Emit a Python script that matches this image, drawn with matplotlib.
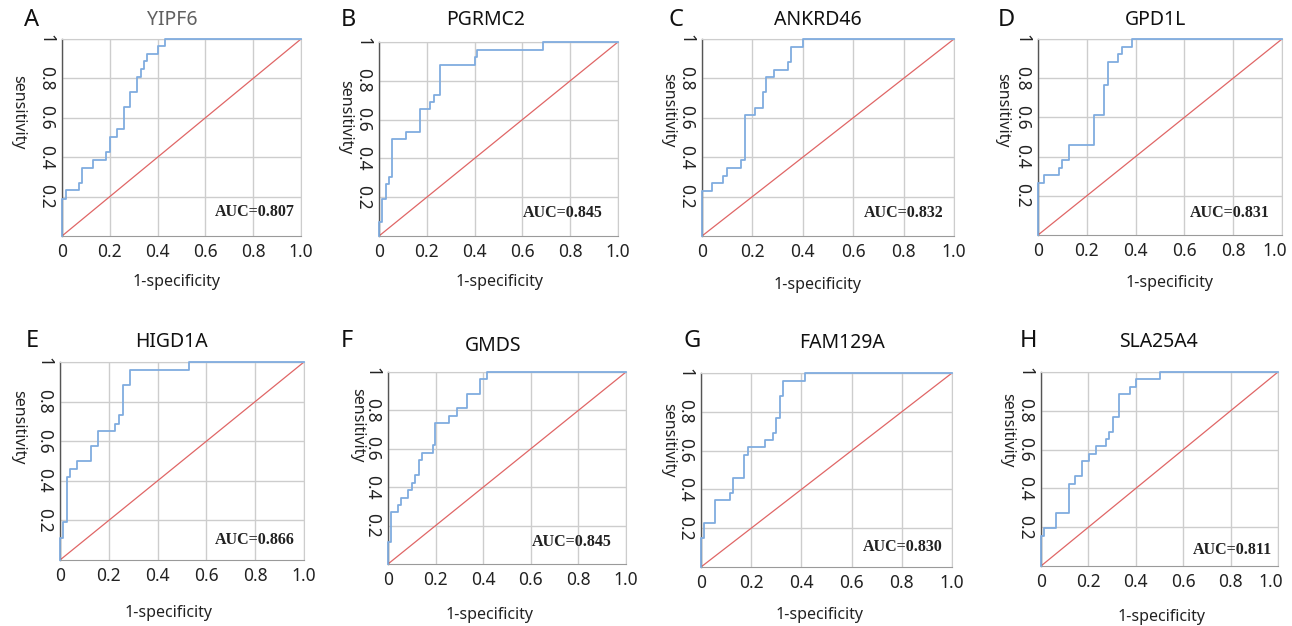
import matplotlib
matplotlib.use("Agg")
import matplotlib.pyplot as plt
from matplotlib.transforms import ScaledTranslation

# ---- data: ROC staircase corners (1-specificity, sensitivity) ----
genes = ["YIPF6", "PGRMC2", "ANKRD46", "GPD1L", "HIGD1A", "GMDS", "FAM129A", "SLA25A4"]
letters = ["A", "B", "C", "D", "E", "F", "G", "H"]
auc_values = ["0.807", "0.845", "0.832", "0.831", "0.866", "0.845", "0.830", "0.811"]

fpr_yipf6 = [0, 0, 0.017, 0.071, 0.084, 0.13, 0.186, 0.2, 0.229, 0.258, 0.285, 0.314, 0.331, 0.344, 0.356, 0.4, 0.429, 1.0]
tpr_yipf6 = [0, 0.188, 0.231, 0.27, 0.346, 0.385, 0.424, 0.503, 0.542, 0.654, 0.73, 0.808, 0.847, 0.886, 0.925, 0.963, 1.0, 1.0]

fpr_pgrmc2 = [0, 0, 0.013, 0.028, 0.04, 0.056, 0.114, 0.17, 0.215, 0.229, 0.255, 0.4, 0.41, 0.685, 1.0]
tpr_pgrmc2 = [0, 0.074, 0.19, 0.267, 0.305, 0.5, 0.536, 0.654, 0.692, 0.729, 0.884, 0.921, 0.96, 1.0, 1.0]

fpr_ankrd46 = [0, 0, 0.041, 0.083, 0.1, 0.156, 0.17, 0.212, 0.241, 0.255, 0.285, 0.342, 0.355, 0.4, 1.0]
tpr_ankrd46 = [0, 0.229, 0.268, 0.306, 0.345, 0.384, 0.613, 0.652, 0.73, 0.806, 0.845, 0.885, 0.959, 1.0, 1.0]

fpr_gpd1l = [0, 0, 0.026, 0.085, 0.097, 0.128, 0.23, 0.27, 0.286, 0.328, 0.344, 0.387, 1.0]
tpr_gpd1l = [0, 0.267, 0.306, 0.344, 0.383, 0.459, 0.612, 0.765, 0.884, 0.923, 0.961, 1.0, 1.0]

fpr_higd1a = [0, 0, 0.012, 0.03, 0.041, 0.07, 0.127, 0.156, 0.227, 0.24, 0.258, 0.286, 0.529, 1.0]
tpr_higd1a = [0, 0.113, 0.191, 0.42, 0.459, 0.498, 0.574, 0.652, 0.689, 0.73, 0.883, 0.961, 1.0, 1.0]

fpr_gmds = [0, 0, 0.013, 0.041, 0.056, 0.084, 0.101, 0.115, 0.129, 0.142, 0.187, 0.199, 0.255, 0.288, 0.33, 0.387, 0.414, 1.0]
tpr_gmds = [0, 0.116, 0.27, 0.308, 0.346, 0.386, 0.424, 0.464, 0.54, 0.578, 0.618, 0.732, 0.77, 0.81, 0.888, 0.962, 1.0, 1.0]

fpr_fam129a = [0, 0, 0.012, 0.056, 0.114, 0.126, 0.171, 0.186, 0.255, 0.287, 0.299, 0.315, 0.328, 0.414, 1.0]
tpr_fam129a = [0, 0.152, 0.229, 0.343, 0.383, 0.46, 0.576, 0.616, 0.653, 0.69, 0.767, 0.883, 0.96, 1.0, 1.0]

fpr_sla25a4 = [0, 0, 0.014, 0.062, 0.117, 0.145, 0.174, 0.202, 0.23, 0.274, 0.287, 0.302, 0.33, 0.374, 0.4, 0.501, 1.0]
tpr_sla25a4 = [0, 0.154, 0.194, 0.271, 0.424, 0.463, 0.539, 0.578, 0.616, 0.655, 0.693, 0.77, 0.885, 0.924, 0.962, 1.0, 1.0]

fprs = [fpr_yipf6, fpr_pgrmc2, fpr_ankrd46, fpr_gpd1l, fpr_higd1a, fpr_gmds, fpr_fam129a, fpr_sla25a4]
tprs = [tpr_yipf6, tpr_pgrmc2, tpr_ankrd46, tpr_gpd1l, tpr_higd1a, tpr_gmds, tpr_fam129a, tpr_sla25a4]

x_ticks = [0, 0.2, 0.4, 0.6, 0.8, 1.0]
x_tick_labels = ["0", "0.2", "0.4", "0.6", "0.8", "1.0"]
y_ticks = [0.2, 0.4, 0.6, 0.8, 1.0]
y_tick_labels = ["0.2", "0.4", "0.6", "0.8", "1"]

# ---- layout (pixels) ----
W, H = 1292, 626
# axes boxes: left, right, top, bottom
boxes = [
    (62, 301, 39, 236), (379, 618, 42, 236), (702, 954, 39, 236), (1038, 1282, 39, 235),
    (60, 304, 362, 560), (388, 626, 372, 564), (701, 952, 373, 567), (1041, 1278, 372, 566),
]
# letter (x, y), title (x, y), xlabel (x, y), ylabel (x, y)
letter_pos = [(32, 20), (348, 20), (676, 20), (1006, 20), (32, 341), (347, 341), (692, 341), (1028, 341)]
title_pos = [(172, 20), (486, 20), (818, 20), (1155, 20), (171, 342), (493, 346), (842, 343), (1158, 342)]
xlabel_pos = [(177, 282), (500, 282), (818, 285), (1170, 283), (169, 613), (490, 615), (820, 615), (1162, 617)]
ylabel_pos = [(18, 112), (345, 117), (668, 110), (1002, 110), (18, 427), (357, 425), (668, 440), (1007, 430)]
auc_pos = [(0.975, 0.12), (0.937, 0.12), (0.96, 0.115), (0.95, 0.11),
           (0.963, 0.10), (0.94, 0.114), (0.964, 0.105), (0.975, 0.085)]
title_colors = ["#606060"] + ["#111111"] * 7

sans = ["Noto Sans", "DejaVu Sans"]
plt.rcParams["font.family"] = sans

fig = plt.figure(figsize=(W / 100, H / 100), dpi=100)
fig.patch.set_facecolor("white")

grid_c = "#cdcdcd"
for i in range(8):
    l, r, t, b = boxes[i]
    ax = fig.add_axes([l / W, 1 - b / H, (r - l) / W, (b - t) / H])
    ax.set_xlim(0, 1)
    ax.set_ylim(0, 1)
    ax.set_xticks(x_ticks)
    ax.set_xticklabels(x_tick_labels, fontsize=12.5, color="#222222")
    ax.set_yticks(y_ticks)
    ax.set_yticklabels(y_tick_labels, fontsize=12.5, color="#222222", rotation=270, va="center")
    ax.tick_params(length=0, pad=5)
    ax.grid(True, color=grid_c, linewidth=1.0)
    ax.set_axisbelow(True)
    ax.spines["left"].set_color("#555555")
    ax.spines["left"].set_linewidth(1.0)
    ax.spines["bottom"].set_color("#9a9a9a")
    for s in ("top", "right"):
        ax.spines[s].set_color(grid_c)
    if r > W - 20:
        # keep the last x tick label inside the figure
        last = ax.get_xticklabels()[-1]
        last.set_transform(last.get_transform() + ScaledTranslation(-7 / 100, 0, fig.dpi_scale_trans))

    ax.plot([0, 1], [0, 1], color="#e06666", linewidth=0.9, zorder=2)
    ax.step(fprs[i], tprs[i], where="post", color="#80acdf", linewidth=1.3, zorder=3, clip_on=False)

    ax.text(auc_pos[i][0], auc_pos[i][1], "AUC=" + auc_values[i], transform=ax.transAxes,
            ha="right", va="center", fontsize=11.5, fontweight="bold",
            family=["Liberation Serif", "DejaVu Serif"], color="#222222")

    fig.text(letter_pos[i][0] / W, 1 - letter_pos[i][1] / H, letters[i], fontsize=17,
             ha="center", va="center", color="#111111")
    fig.text(title_pos[i][0] / W, 1 - title_pos[i][1] / H, genes[i], fontsize=14,
             ha="center", va="center", color=title_colors[i])
    fig.text(xlabel_pos[i][0] / W, 1 - xlabel_pos[i][1] / H, "1-specificity", fontsize=11.5,
             ha="center", va="center", color="#222222")
    fig.text(ylabel_pos[i][0] / W, 1 - ylabel_pos[i][1] / H, "sensitivity", fontsize=11.5,
             ha="center", va="center", rotation=270, color="#222222")

fig.savefig("out.png", dpi=100, facecolor="white")
